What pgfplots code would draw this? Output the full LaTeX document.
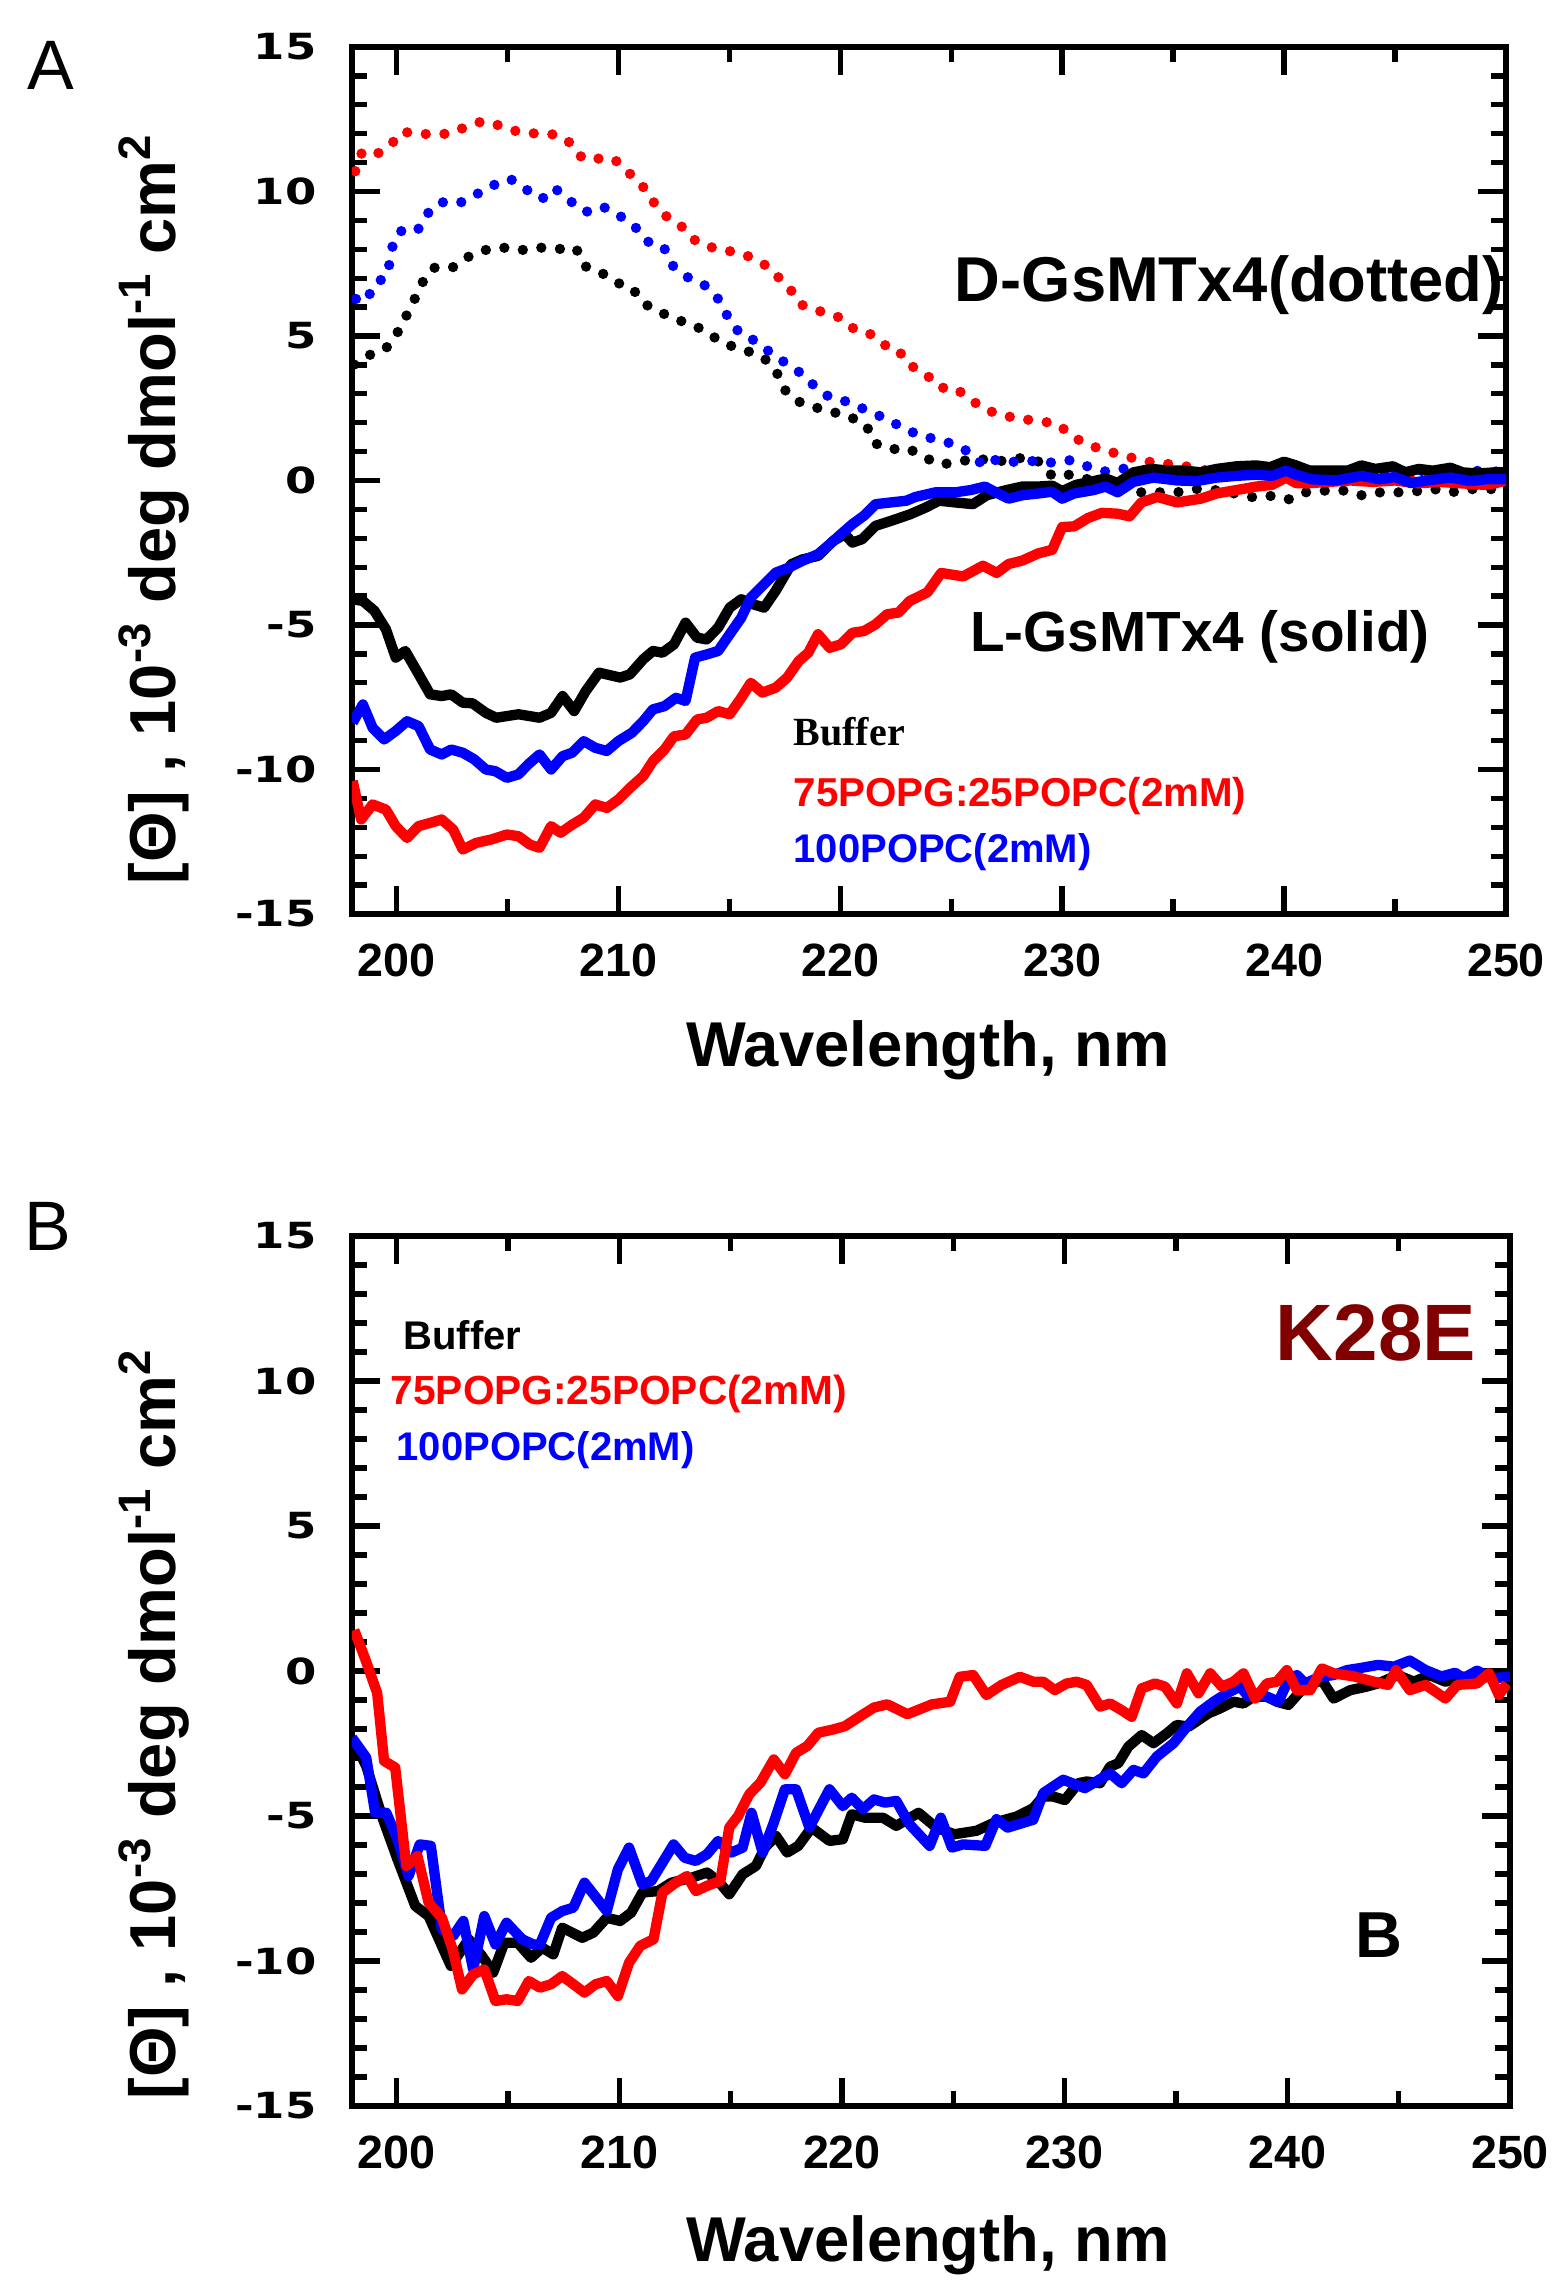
\documentclass[border=0pt]{standalone}
\usepackage{fontspec}
\setmainfont{Liberation Sans}
\newfontfamily\dejavu{DejaVu Sans}
\newfontfamily\timesbf{Liberation Serif}
\usepackage{pgfplots}
\usepackage{pgfplotstable}
\pgfplotsset{compat=1.18}
\definecolor{cdred}{RGB}{255,0,0}
\definecolor{cdblue}{RGB}{0,0,255}
\definecolor{kmaroon}{RGB}{128,0,0}

% ---------- panel A, D-GsMTx4 (dotted) ----------
\pgfplotstableread{
x y
198.15 10.70
198.44 11.34
199.00 11.24
199.69 11.57
200.26 12.07
200.92 12.00
201.59 11.98
202.42 12.00
203.29 12.29
203.89 12.43
204.72 12.27
205.54 12.05
206.38 12.00
207.20 11.97
207.82 11.69
208.39 11.14
209.01 11.14
209.81 11.12
210.54 10.60
211.14 10.14
211.64 9.58
212.23 9.09
212.85 8.79
213.51 8.27
214.27 8.05
215.00 7.94
215.85 7.76
216.63 7.45
217.23 7.02
217.79 6.57
218.22 6.09
219.03 5.87
219.88 5.67
220.54 5.28
221.25 5.13
221.94 4.70
222.58 4.56
223.06 4.02
223.80 3.72
224.50 3.21
225.18 3.20
225.89 2.79
226.57 2.44
227.41 2.24
228.21 2.12
229.05 2.06
229.86 1.92
230.48 1.51
231.21 1.22
232.00 1.03
232.82 0.85
233.57 0.70
234.38 0.58
235.23 0.56
235.98 0.41
236.80 0.31
238.00 0.25
240.00 0.20
242.00 0.15
245.00 0.10
248.00 0.10
250.00 0.05
}\dRed

\pgfplotstableread{
x y
198.18 6.28
198.65 6.20
199.00 6.80
199.57 7.06
199.74 7.70
199.88 8.35
200.26 8.66
200.95 8.65
201.38 9.22
201.99 9.63
202.82 9.59
203.63 9.91
204.27 10.19
205.14 10.43
205.93 10.03
206.56 9.74
207.13 10.12
207.72 9.73
208.53 9.29
209.29 9.48
210.14 9.12
210.88 8.69
211.42 8.20
212.06 8.05
212.46 7.43
213.08 7.05
213.88 6.76
214.53 6.26
214.93 5.67
215.48 5.08
216.12 4.85
216.82 4.45
217.47 4.10
218.25 3.70
218.88 3.24
219.52 2.88
220.29 2.73
221.16 2.44
221.96 2.17
222.75 1.86
223.55 1.56
224.30 1.43
225.00 1.28
225.86 0.97
226.46 0.50
227.05 0.73
227.86 0.64
228.66 0.67
229.52 0.62
230.32 0.70
231.10 0.50
231.96 0.31
232.73 0.41
234.00 0.30
236.00 0.25
238.00 0.30
240.00 0.20
242.00 0.25
244.00 0.30
246.00 0.35
247.00 0.25
248.00 0.35
250.00 0.30
}\dBlue

\pgfplotstableread{
x y
198.10 4.01
198.88 4.38
199.52 4.56
200.03 5.09
200.45 5.70
200.83 6.29
201.21 6.90
201.70 7.36
202.51 7.36
203.15 7.71
203.98 7.97
204.79 8.06
205.62 7.97
206.44 8.06
207.27 8.01
208.10 8.03
208.48 7.42
209.19 7.21
209.95 6.84
210.61 6.67
211.14 6.13
211.76 5.87
212.61 5.57
213.43 5.37
214.22 5.00
214.90 4.70
215.69 4.52
216.56 4.24
217.11 3.80
217.42 3.20
217.98 2.77
218.77 2.55
219.62 2.38
220.42 2.21
221.18 1.91
221.52 1.30
222.23 1.08
223.06 1.11
223.80 0.80
224.50 0.55
225.32 0.64
226.16 0.78
226.88 0.64
227.50 0.70
228.18 0.78
229.02 0.64
229.55 0.15
230.32 0.20
231.07 0.06
232.20 -0.20
233.48 -0.41
234.29 -0.41
235.18 -0.41
235.98 -0.29
237.20 -0.35
238.48 -0.58
239.29 -0.52
240.18 -0.66
240.98 -0.41
241.88 -0.35
242.68 -0.35
243.54 -0.52
244.34 -0.41
245.18 -0.41
245.89 -0.38
246.70 -0.29
247.50 -0.41
248.50 -0.30
250.00 -0.30
}\dBlack

% ---------- panel A, L-GsMTx4 (solid) ----------
\pgfplotstableread{
x y
198.03 -10.40
198.41 -11.73
198.93 -11.21
199.53 -11.39
199.97 -11.96
200.48 -12.37
201.00 -11.96
201.52 -11.85
202.04 -11.73
202.56 -12.08
202.99 -12.77
203.60 -12.54
204.29 -12.42
204.98 -12.25
205.50 -12.31
206.02 -12.60
206.45 -12.71
206.97 -11.96
207.40 -12.19
207.92 -11.91
208.44 -11.67
208.96 -11.21
209.48 -11.33
210.00 -11.04
210.52 -10.64
211.12 -10.23
211.56 -9.71
212.08 -9.31
212.51 -8.85
213.03 -8.79
213.55 -8.27
213.98 -8.21
214.50 -7.98
215.02 -8.09
215.54 -7.52
215.97 -7.00
216.49 -7.34
217.09 -7.17
217.61 -6.82
218.13 -6.25
218.56 -5.96
219.00 -5.32
219.52 -5.79
220.03 -5.67
220.55 -5.27
221.07 -5.21
221.59 -4.98
222.11 -4.63
222.63 -4.57
223.13 -4.17
223.93 -3.87
224.55 -3.20
225.54 -3.32
226.43 -2.95
227.05 -3.20
227.59 -2.89
228.21 -2.77
228.93 -2.52
229.55 -2.40
230.00 -1.61
230.54 -1.59
231.16 -1.30
231.79 -1.12
232.50 -1.15
233.04 -1.24
233.57 -0.76
234.29 -0.57
235.18 -0.76
236.25 -0.63
236.96 -0.45
237.86 -0.33
238.75 -0.21
239.46 -0.15
240.09 0.10
240.54 -0.09
241.00 -0.10
242.00 -0.05
243.00 0.00
244.00 -0.05
245.00 0.00
246.00 -0.10
247.00 -0.05
248.00 -0.10
249.00 -0.15
249.50 -0.10
250.00 0.00
}\lRed

\pgfplotstableread{
x y
198.03 -4.11
198.49 -4.17
199.01 -4.51
199.53 -5.15
199.97 -6.13
200.40 -5.90
200.92 -6.59
201.52 -7.40
202.04 -7.46
202.47 -7.40
202.99 -7.69
203.43 -7.71
204.03 -8.04
204.50 -8.21
205.50 -8.09
206.45 -8.21
206.97 -8.04
207.49 -7.46
208.01 -7.98
208.53 -7.29
209.13 -6.65
210.09 -6.82
210.52 -6.71
211.12 -6.19
211.56 -5.90
211.99 -5.96
212.51 -5.67
213.03 -4.92
213.55 -5.44
213.98 -5.50
214.50 -5.09
215.02 -4.40
215.54 -4.11
216.06 -4.28
216.57 -4.40
217.09 -3.82
217.79 -2.90
218.30 -2.73
219.00 -2.61
219.69 -2.09
220.21 -1.86
220.55 -2.15
220.99 -2.03
221.59 -1.57
222.28 -1.40
223.15 -1.17
223.84 -0.94
224.46 -0.70
225.18 -0.76
225.98 -0.82
226.61 -0.51
227.50 -0.33
228.21 -0.21
228.93 -0.21
229.55 -0.18
230.00 -0.37
230.63 -0.15
231.43 -0.02
231.96 0.07
232.50 -0.09
233.21 0.28
234.02 0.40
234.82 0.34
235.54 0.34
236.25 0.28
236.96 0.40
237.86 0.49
238.75 0.52
239.38 0.46
240.00 0.65
240.54 0.52
241.16 0.34
241.96 0.34
242.86 0.34
243.48 0.52
244.11 0.40
244.91 0.49
245.45 0.28
246.07 0.40
246.70 0.34
247.50 0.44
248.04 0.28
248.75 0.24
249.46 0.28
250.00 0.28
}\lBlack

\pgfplotstableread{
x y
198.03 -8.38
198.49 -7.75
198.93 -8.56
199.45 -8.96
199.97 -8.67
200.48 -8.33
201.00 -8.50
201.52 -9.31
202.04 -9.48
202.47 -9.31
202.99 -9.42
203.51 -9.65
204.03 -10.00
204.46 -10.06
204.98 -10.29
205.50 -10.17
205.93 -9.83
206.45 -9.48
206.97 -10.00
207.49 -9.54
207.92 -9.42
208.44 -9.02
208.96 -9.25
209.48 -9.36
210.00 -9.02
210.61 -8.73
211.12 -8.33
211.56 -7.92
212.08 -7.81
212.60 -7.52
213.03 -7.63
213.46 -6.13
213.98 -6.02
214.50 -5.90
215.02 -5.32
215.54 -4.75
215.97 -4.05
216.57 -3.59
217.09 -3.19
217.70 -3.01
218.30 -2.78
219.00 -2.55
219.52 -2.21
220.03 -1.86
220.55 -1.51
221.07 -1.22
221.59 -0.82
222.28 -0.76
222.98 -0.70
223.39 -0.57
224.29 -0.41
225.18 -0.41
225.89 -0.33
226.52 -0.21
226.96 -0.39
227.59 -0.63
228.21 -0.51
228.93 -0.45
229.55 -0.39
230.00 -0.63
230.54 -0.45
231.43 -0.33
231.96 -0.21
232.50 -0.41
233.21 -0.05
234.11 0.10
235.18 0.00
236.07 -0.02
236.96 0.10
237.86 0.16
238.75 0.20
239.46 0.16
240.09 0.34
240.54 0.20
241.25 0.04
242.32 0.00
243.48 0.16
244.29 0.04
245.00 0.12
245.71 -0.09
246.43 0.00
247.50 0.10
248.39 -0.02
249.11 0.04
250.00 0.04
}\lBlue

% ---------- panel B, K28E ----------
\pgfplotstableread{
x y
198.04 -2.36
198.64 -3.28
199.34 -5.00
200.04 -6.49
200.84 -8.10
201.44 -8.45
202.44 -10.17
203.24 -9.25
203.84 -9.83
204.34 -10.40
204.84 -9.37
205.44 -9.37
206.04 -9.89
206.54 -9.54
207.04 -9.77
207.44 -8.85
208.34 -9.20
208.84 -9.02
209.44 -8.51
210.04 -8.62
210.54 -8.33
211.04 -7.64
211.74 -7.59
212.34 -7.30
213.24 -7.13
213.94 -6.95
214.44 -7.24
214.94 -7.70
215.54 -7.01
216.14 -6.72
216.54 -6.09
217.04 -5.69
217.54 -6.26
218.04 -6.03
218.64 -5.40
219.44 -5.86
220.04 -5.80
220.44 -4.94
221.04 -5.06
221.84 -5.06
222.44 -5.34
223.44 -4.89
224.24 -5.40
225.04 -5.63
226.04 -5.51
226.84 -5.23
227.84 -5.02
228.59 -4.73
229.04 -4.33
229.49 -4.33
230.01 -4.45
230.61 -3.87
230.99 -3.81
231.59 -3.87
232.04 -3.30
232.41 -3.18
232.86 -2.61
233.46 -2.21
233.99 -2.49
234.59 -2.15
235.04 -1.86
235.57 -1.92
236.46 -1.46
236.98 -1.29
237.58 -1.06
238.03 -1.12
238.48 -0.89
239.08 -0.89
239.53 -1.06
240.05 -1.17
240.58 -0.71
241.18 -0.43
241.55 -0.31
242.08 -0.95
242.83 -0.66
243.50 -0.55
244.07 -0.43
244.96 -0.14
245.68 -0.37
246.39 -0.14
247.10 -0.37
247.81 -0.19
248.52 -0.25
249.24 -0.19
250.00 -0.25
}\kBlack

\pgfplotstableread{
x y
198.00 -2.30
198.64 -2.99
199.04 -4.89
199.54 -4.89
200.04 -5.80
200.54 -7.07
201.04 -5.98
201.54 -6.03
202.04 -8.91
202.54 -9.14
203.00 -8.62
203.44 -10.29
203.94 -8.45
204.44 -9.43
204.94 -8.68
205.64 -9.25
206.14 -9.43
206.44 -9.43
206.94 -8.51
207.44 -8.28
207.94 -8.16
208.44 -7.30
209.44 -8.28
209.94 -6.84
210.44 -6.09
211.04 -7.36
211.44 -7.24
212.44 -5.98
212.94 -6.44
213.44 -6.55
213.94 -6.32
214.44 -5.86
215.04 -6.26
215.54 -6.09
215.94 -4.89
216.44 -6.26
216.94 -5.23
217.44 -4.08
217.94 -4.08
218.54 -5.40
219.04 -4.66
219.44 -4.08
220.04 -4.66
220.44 -4.37
220.94 -4.77
221.44 -4.43
221.94 -4.54
222.44 -4.48
223.04 -5.29
223.94 -6.03
224.44 -5.06
224.94 -6.09
225.44 -5.98
226.44 -6.03
226.94 -5.11
227.44 -5.40
228.59 -5.13
229.04 -4.21
229.94 -3.75
230.91 -4.04
232.04 -3.53
232.56 -3.87
233.09 -3.41
233.54 -3.53
234.14 -2.95
234.89 -2.49
235.49 -1.92
236.09 -1.40
236.69 -1.06
237.28 -0.77
237.88 -0.54
238.26 -0.89
238.93 -0.83
239.60 -1.06
240.05 -0.31
240.43 -0.14
240.80 -0.43
241.47 -0.20
242.08 -0.14
242.68 0.03
243.19 0.09
244.07 0.21
244.79 0.15
245.50 0.36
246.21 0.03
246.92 -0.19
247.54 -0.06
247.90 -0.25
248.52 0.01
249.24 -0.25
250.00 -0.19
}\kBlue

\pgfplotstableread{
x y
198.10 1.41
198.60 0.40
199.13 -0.76
199.44 -3.10
199.94 -3.33
200.44 -6.72
200.94 -6.38
201.44 -7.99
202.04 -8.51
202.54 -9.66
202.94 -10.98
203.44 -10.46
203.94 -10.29
204.44 -11.38
204.94 -11.32
205.44 -11.38
205.94 -10.69
206.44 -10.92
206.94 -10.80
207.44 -10.52
207.94 -10.80
208.44 -11.09
208.94 -10.80
209.44 -10.69
209.94 -11.21
210.44 -10.06
210.94 -9.48
211.54 -9.25
211.94 -7.64
212.54 -7.30
213.04 -7.07
213.44 -7.59
213.94 -7.41
214.54 -7.24
214.94 -5.40
215.34 -5.00
215.84 -4.25
216.34 -3.85
216.94 -3.05
217.44 -3.56
217.94 -2.82
218.44 -2.59
218.94 -2.13
219.64 -2.01
220.14 -1.90
220.84 -1.55
221.44 -1.26
222.04 -1.15
222.94 -1.49
224.04 -1.15
224.86 -1.06
225.29 -0.20
225.89 -0.14
226.49 -0.83
227.17 -0.48
227.99 -0.20
228.59 -0.37
229.04 -0.37
229.56 -0.66
230.09 -0.43
230.54 -0.37
230.99 -0.48
231.59 -1.23
232.04 -1.12
232.56 -1.35
233.01 -1.58
233.46 -0.60
234.06 -0.43
234.51 -0.54
235.04 -1.12
235.49 -0.08
236.01 -0.77
236.54 -0.08
237.06 -0.54
237.58 -0.37
238.03 -0.08
238.56 -0.95
239.08 -0.43
239.53 -0.37
239.98 0.03
240.43 -0.66
241.03 -0.66
241.55 0.09
242.08 -0.08
243.01 -0.19
243.90 -0.37
244.52 -0.48
244.88 0.03
245.50 -0.66
246.21 -0.48
247.10 -0.95
247.63 -0.48
248.52 -0.43
249.06 -0.08
249.50 -0.83
249.86 -0.43
}\kRed

\pgfplotsset{
  cdaxis/.style={
    scale only axis, anchor=south west,
    xmin=198, xmax=250, ymin=-15, ymax=15,
    xtick={200,210,220,230,240,250},
    xticklabels={200,210,220,230,240,250},
    ytick={-15,-10,-5,0,5,10,15},
    yticklabels={-15,-10,-5,0,5,10,15},
    minor x tick num=1, minor y tick num=4,
    tick align=inside,
    major tick length=8.5pt, minor tick length=4.5pt,
    every tick/.append style={line width=1.6pt, black},
    axis line style={line width=2pt},
    xticklabel style={font=\bfseries\fontsize{14}{14}\selectfont, yshift=-5.5pt},
    yticklabel style={font=\dejavu\bfseries\fontsize{10.8}{10.8}\selectfont, xscale=1.25, xshift=-5pt},
  },
  cdline/.style={line width=3.1pt, line join=round, no marks},
  cddot/.style={line width=3.1pt, line cap=round, dash pattern=on 0pt off 5.6pt, no marks},
}

\begin{document}
\begin{tikzpicture}
\useasboundingbox (0,0) rectangle (467.4pt,684.3pt);

% panel A
\begin{axis}[cdaxis, at={(105.6pt,410.1pt)}, width=346.2pt, height=260.1pt]
\addplot[cddot, black] table {\dBlack};
\addplot[cddot, cdblue] table {\dBlue};
\addplot[cddot, cdred] table {\dRed};
\addplot[cdline, cdred] table {\lRed};
\addplot[cdline, black] table {\lBlack};
\addplot[cdline, cdblue] table {\lBlue};
\end{axis}

% panel B
\begin{axis}[cdaxis, at={(105.6pt,52.5pt)}, width=347.4pt, height=261pt]
\addplot[cdline, black] table {\kBlack};
\addplot[cdline, cdblue] table {\kBlue};
\addplot[cdline, cdred] table {\kRed};
\end{axis}

% labels, panel A
\node[font=\fontsize{21}{21}\selectfont] at (15.3pt,664.8pt) {A};
\node[rotate=90, font=\bfseries\fontsize{19.5}{19.5}\selectfont] at (46.2pt,531.6pt)
  {[Θ] , 10\textsuperscript{-3} deg dmol\textsuperscript{-1} cm\textsuperscript{2}};
\node[font=\bfseries\fontsize{19}{19}\selectfont] at (278.4pt,369.3pt) {Wavelength, nm};
\node[font=\bfseries\fontsize{19}{19}\selectfont] at (368.8pt,598.8pt) {D-GsMTx4(dotted)};
\node[font=\bfseries\fontsize{17}{17}\selectfont] at (360pt,493.2pt) {L-GsMTx4 (solid)};
\node[anchor=west, inner sep=0pt, font=\timesbf\bfseries\fontsize{12}{12}\selectfont] at (237.9pt,464.7pt) {Buffer};
\node[anchor=west, inner sep=0pt, text=cdred, font=\bfseries\fontsize{12.1}{12.1}\selectfont] at (237.9pt,445.5pt) {75POPG:25POPC(2mM)};
\node[anchor=west, inner sep=0pt, text=cdblue, font=\bfseries\fontsize{12}{12}\selectfont] at (237.9pt,428.7pt) {100POPC(2mM)};

% labels, panel B
\node[font=\fontsize{21}{21}\selectfont] at (14.4pt,316.5pt) {B};
\node[rotate=90, font=\bfseries\fontsize{19.5}{19.5}\selectfont] at (46.2pt,167.1pt)
  {[Θ] , 10\textsuperscript{-3} deg dmol\textsuperscript{-1} cm\textsuperscript{2}};
\node[font=\bfseries\fontsize{19}{19}\selectfont] at (278.4pt,10.8pt) {Wavelength, nm};
\node[anchor=west, inner sep=0pt, font=\bfseries\fontsize{12}{12}\selectfont] at (120.9pt,283.8pt) {Buffer};
\node[anchor=west, inner sep=0pt, text=cdred, font=\bfseries\fontsize{12.2}{12.2}\selectfont] at (117pt,266.1pt) {75POPG:25POPC(2mM)};
\node[anchor=west, inner sep=0pt, text=cdblue, font=\bfseries\fontsize{12}{12}\selectfont] at (118.8pt,249.3pt) {100POPC(2mM)};
\node[text=kmaroon, font=\bfseries\fontsize{24}{24}\selectfont] at (412.8pt,284.4pt) {K28E};
\node[font=\bfseries\fontsize{19.5}{19.5}\selectfont] at (413.7pt,103.8pt) {B};
\end{tikzpicture}
\end{document}
